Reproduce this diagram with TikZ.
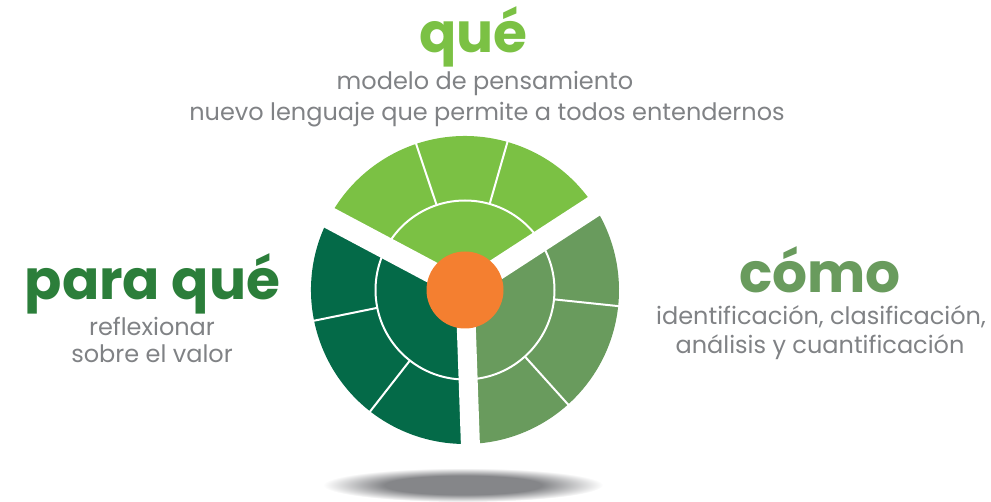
\documentclass[tikz,border=0pt]{standalone}
\usepackage{fontspec}
\setmainfont{Poppins}
\usetikzlibrary{positioning}

\definecolor{quegreen}{HTML}{7BC144}
\definecolor{comogreen}{HTML}{699B5D}
\definecolor{paragreen}{HTML}{046A48}
\definecolor{paratitle}{HTML}{2B7E3A}
\definecolor{huborange}{HTML}{F47F30}
\definecolor{textgray}{HTML}{808285}
\definecolor{shadowgray}{HTML}{858689}
\pgfdeclareradialshading{floorshadow}{\pgfpoint{0bp}{0bp}}{color(0bp)=(shadowgray);color(14bp)=(shadowgray);color(25bp)=(white);color(50bp)=(white)}

\begin{document}
\begin{tikzpicture}[x=1pt, y=-1pt,
    title/.style={font=\bfseries\fontsize{55}{55}\selectfont, inner sep=0pt, anchor=base},
    desc/.style={font=\fontsize{24}{24}\selectfont, text=textgray, inner sep=0pt, anchor=base}]
  \useasboundingbox (0,0) rectangle (991,502);

  % floor shadow
  \shade[shading=floorshadow] (463,485) ellipse[x radius=140, y radius=17];

  % wheel
  \begin{scope}[shift={(465,290)}, yscale=-1]
    \fill[quegreen] (0,0) -- (33:154) arc[start angle=33, end angle=152, radius=154] -- cycle;
    \fill[paragreen] (0,0) -- (152:154) arc[start angle=152, end angle=272, radius=154] -- cycle;
    \fill[comogreen] (0,0) -- (272:154) arc[start angle=272, end angle=393, radius=154] -- cycle;
    \foreach \a/\w in {33/22, 152/22, 272/19}
      \draw[white, line width=\w pt] (0,0) -- (\a:165);
    \foreach \a in {74, 108.5, 191.5, 232, -48, -6}
      \draw[white, line width=2pt] (\a:89.5) -- (\a:160);
    \draw[white, line width=2pt] (0,0) circle[radius=89.5];
    \node[circle, fill=huborange, minimum size=77pt, inner sep=0pt] (hub) at (0,0) {};
  \end{scope}

  % labels
  \node[title, text=quegreen] (que) at (473.5,53) {qué};
  \node[desc] (queA) at (485,90) {modelo de pensamiento};
  \node[desc] (queB) at (487,121) {nuevo lenguaje que permite a todos entendernos};

  \node[title, text=paratitle] (para) at (152.5,300) {para qué};
  \node[desc] (paraA) at (152,336) {reflexionar};
  \node[desc] (paraB) at (152,363) {sobre el valor};

  \node[title, text=comogreen] (como) at (820,293) {cómo};
  \node[desc] (comoA) at (821,325) {identificación, clasificación,};
  \node[desc] (comoB) at (820,354) {análisis y cuantificación};
\end{tikzpicture}
\end{document}
